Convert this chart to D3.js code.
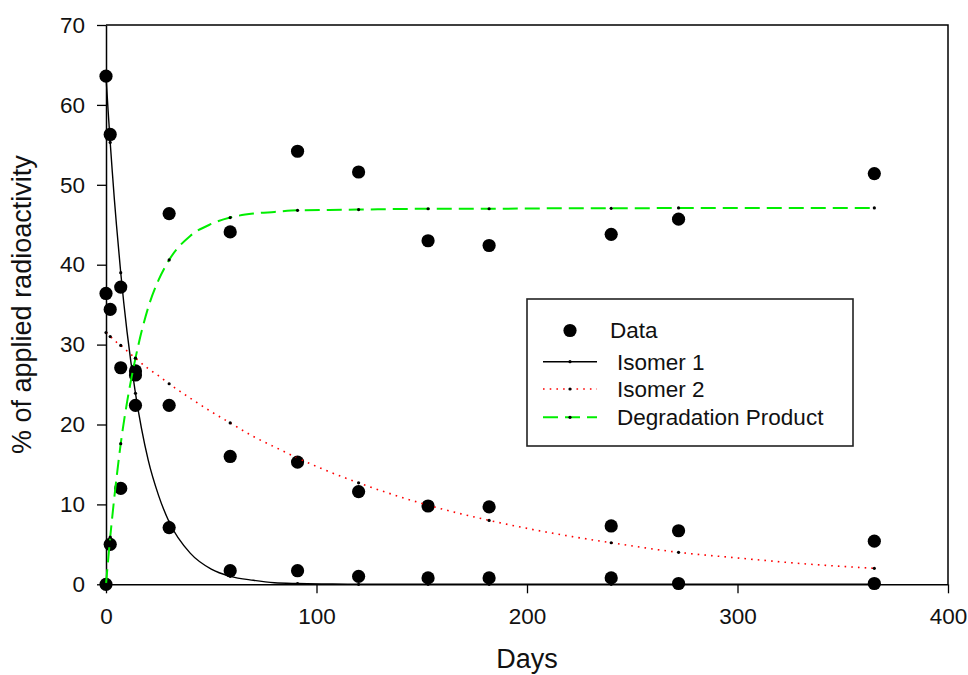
<!DOCTYPE html>
<html>
<head>
<meta charset="utf-8">
<script src="https://cdn.jsdelivr.net/npm/d3@7"></script>
<style>
html,body{margin:0;padding:0;background:#fff;}
svg{display:block;font-family:"Liberation Sans",Arial,sans-serif;}
</style>
</head>
<body>
<svg id="chart" width="968" height="675"></svg>
<script>
// ---- data ----
const obsDays = [0, 2, 7, 14, 30, 59, 91, 120, 153, 182, 240, 272, 365];
const isomer1Obs = [63.6, 56.3, 37.2, 22.4, 7.1, 1.7, 1.7, 1.0, 0.8, 0.8, 0.8, 0.1, 0.1];
const isomer2Obs = [36.4, 34.4, 27.1, 26.2, 22.4, 16.0, 15.3, 11.6, 9.8, 9.7, 7.3, 6.7, 5.4];
const degradObs  = [0.0, 5.0, 12.0, 26.7, 46.4, 44.1, 54.2, 51.6, 43.0, 42.4, 43.8, 45.7, 51.4];

const fitDays = [0, 1, 2, 3, 4, 5, 7, 10, 14, 20, 25, 30, 40, 50, 59, 70, 80, 91, 105, 120, 153, 182, 210, 240, 272, 300, 330, 365];
const isomer1Fit = [63.6, 59.3, 55.3, 51.6, 48.1, 44.9, 39.0, 31.6, 23.9, 15.6, 11.1, 7.8, 3.9, 1.9, 1.0, 0.5, 0.2, 0.1, 0.04, 0.0, 0.0, 0.0, 0.0, 0.0, 0.0, 0.0, 0.0, 0.0];
const isomer2Fit = [31.5, 31.3, 31.0, 30.8, 30.6, 30.3, 29.9, 29.2, 28.3, 27.0, 26.1, 25.1, 23.3, 21.6, 20.2, 18.5, 17.2, 15.8, 14.2, 12.7, 9.9, 8.0, 6.5, 5.2, 4.0, 3.3, 2.6, 2.0];
const degradFit  = [0.0, 3.0, 5.9, 8.5, 11.0, 13.3, 17.6, 22.8, 28.3, 34.6, 38.1, 40.6, 43.6, 45.1, 45.9, 46.4, 46.6, 46.8, 46.85, 46.9, 47.0, 47.0, 47.05, 47.05, 47.1, 47.1, 47.1, 47.1];

const xTicks = [0, 100, 200, 300, 400];
const yTicks = [0, 10, 20, 30, 40, 50, 60, 70];
const seriesNames = ["Isomer 1", "Isomer 2", "Degradation Product"];
const xTitle = "Days";
const yTitle = "% of applied radioactivity";

// ---- layout ----
const svg = d3.select("#chart");
const L = 106, R = 948, T = 25, B = 584.3;
const x = d3.scaleLinear().domain([0, 400]).range([L, R]);
const y = d3.scaleLinear().domain([0, 70]).range([B, T]);
const smallFont = 22.5, titleFont = 27;

const styles = [
  {color: "#000000", width: 1.4, dash: null},
  {color: "#ff0000", width: 1.6, dash: "1.6,5.1"},
  {color: "#00ee00", width: 2.0, dash: "15,7"}
];

// frame (top & right)
svg.append("path")
  .attr("d", `M${L},${T}H${R}V${B}`)
  .attr("fill", "none").attr("stroke", "#000").attr("stroke-width", 1.5);

// axes
const xAxis = svg.append("g").attr("transform", `translate(0,${B})`)
  .call(d3.axisBottom(x).tickValues(xTicks).tickSize(9).tickPadding(15).tickSizeOuter(0));
const yAxis = svg.append("g").attr("transform", `translate(${L},0)`)
  .call(d3.axisLeft(y).tickValues(yTicks).tickSize(9).tickPadding(12).tickSizeOuter(0));
[xAxis, yAxis].forEach(g => {
  g.select(".domain").attr("stroke", "#000").attr("stroke-width", 1.5);
  g.selectAll(".tick line").attr("stroke", "#000").attr("stroke-width", 1.3);
  g.selectAll(".tick text").attr("font-size", smallFont)
    .attr("font-family", "'Liberation Sans', Arial, sans-serif").attr("fill", "#111");
});

// titles
svg.append("text").attr("x", (L + R) / 2).attr("y", 668)
  .attr("text-anchor", "middle").attr("font-size", titleFont).attr("fill", "#111").text(xTitle);
svg.append("text").attr("transform", `translate(31,${(T + B) / 2}) rotate(-90)`)
  .attr("text-anchor", "middle").attr("font-size", titleFont).attr("fill", "#111").text(yTitle);

// observed data points
const obsSets = [isomer1Obs, isomer2Obs, degradObs];
const pts = svg.append("g");
obsSets.forEach(vals => {
  pts.selectAll(null).data(obsDays.map((d, i) => [d, vals[i]])).enter()
    .append("circle")
    .attr("cx", d => x(d[0])).attr("cy", d => y(d[1])).attr("r", 6.6).attr("fill", "#000");
});

// fitted curves
const fits = [isomer1Fit, isomer2Fit, degradFit];
const line = d3.line().x(d => x(d[0])).y(d => y(d[1])).curve(d3.curveMonotoneX);
fits.forEach((vals, k) => {
  const data = fitDays.map((d, i) => [d, vals[i]]);
  const p = svg.append("path").datum(data).attr("d", line)
    .attr("fill", "none").attr("stroke", styles[k].color).attr("stroke-width", styles[k].width);
  if (styles[k].dash) p.attr("stroke-dasharray", styles[k].dash);
  svg.append("g").selectAll("circle")
    .data(data.filter(d => obsDays.includes(d[0]))).enter()
    .append("circle").attr("cx", d => x(d[0])).attr("cy", d => y(d[1])).attr("r", 1.6).attr("fill", "#000");
});

// legend
const lg = svg.append("g");
lg.append("rect").attr("x", 527).attr("y", 299).attr("width", 326).attr("height", 147)
  .attr("fill", "#fff").attr("stroke", "#222").attr("stroke-width", 1.6);
lg.append("circle").attr("cx", 570).attr("cy", 330.5).attr("r", 6.6).attr("fill", "#000");
lg.append("text").attr("x", 610).attr("y", 337.5).attr("font-size", smallFont).attr("fill", "#111").text("Data");
const rowY = [361.7, 389, 417.3];
seriesNames.forEach((name, k) => {
  const ln = lg.append("line").attr("x1", 543).attr("x2", 597).attr("y1", rowY[k]).attr("y2", rowY[k])
    .attr("stroke", styles[k].color).attr("stroke-width", styles[k].width);
  if (styles[k].dash) ln.attr("stroke-dasharray", styles[k].dash);
  lg.append("circle").attr("cx", 570).attr("cy", rowY[k]).attr("r", 1.6).attr("fill", "#000");
  lg.append("text").attr("x", 617).attr("y", rowY[k] + 8).attr("font-size", smallFont).attr("fill", "#111").text(name);
});
</script>
</body>
</html>
